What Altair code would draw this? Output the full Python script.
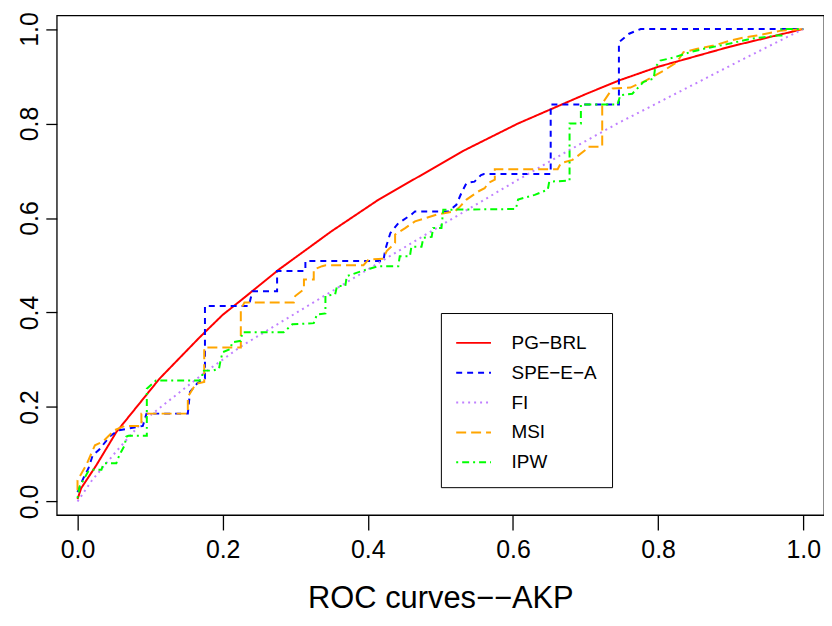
import altair as alt
import pandas as pd

SERIES = ["PG−BRL", "SPE−E−A", "FI", "MSI", "IPW"]
COLORS = ["#FF0000", "#0000FF", "#C080FF", "#FFA500", "#00FF00"]
DASHES = [[1, 0], [6, 5], [2, 4], [10, 5], [2, 4, 7, 4]]

PG_X = [0, 0.005, 0.026, 0.0535, 0.113, 0.168, 0.2, 0.227, 0.2775, 0.35, 0.415, 0.534, 0.607, 0.7, 0.746, 0.8, 0.9, 1.0]
PG_Y = [0.005, 0.028, 0.077, 0.147, 0.26, 0.347, 0.395, 0.428, 0.491, 0.572, 0.639, 0.744, 0.80, 0.862, 0.891, 0.92, 0.963, 1.0]

SPE_X = [0, 0.008, 0.015, 0.021, 0.03, 0.044, 0.055, 0.09, 0.095, 0.152, 0.155, 0.165, 0.1756, 0.1756, 0.236, 0.241,
         0.275, 0.275, 0.314, 0.314, 0.4215, 0.424, 0.431, 0.442, 0.46, 0.465, 0.511, 0.522, 0.529, 0.536, 0.547,
         0.556, 0.56, 0.652, 0.652, 0.746, 0.746, 0.76, 0.776, 1.0]
SPE_Y = [0.02, 0.049, 0.07, 0.098, 0.11, 0.137, 0.15, 0.16, 0.186, 0.186, 0.232, 0.25, 0.26, 0.414, 0.414, 0.445,
         0.445, 0.488, 0.488, 0.509, 0.509, 0.533, 0.568, 0.589, 0.607, 0.614, 0.614, 0.628, 0.653, 0.674, 0.677,
         0.691, 0.693, 0.693, 0.84, 0.84, 0.972, 0.99, 1.0, 1.0]

FI_X = [0, 0.02, 0.05, 0.09, 0.177, 0.227, 0.415, 0.507, 0.607, 0.678, 0.744, 0.913, 1.0]
FI_Y = [0, 0.045, 0.1, 0.17, 0.275, 0.33, 0.505, 0.59, 0.681, 0.744, 0.80, 0.933, 1.0]

MSI_X = [0, 0, 0.012, 0.024, 0.035, 0.051, 0.065, 0.088, 0.088, 0.152, 0.152, 0.163, 0.1746, 0.1746, 0.225, 0.225,
         0.23, 0.298, 0.3, 0.312, 0.312, 0.3255, 0.3255, 0.337, 0.342, 0.394, 0.401, 0.4215, 0.426, 0.4376, 0.4376,
         0.451, 0.465, 0.48, 0.497, 0.52, 0.527, 0.536, 0.552, 0.561, 0.566, 0.575, 0.575, 0.6616, 0.666, 0.682,
         0.70, 0.703, 0.723, 0.723, 0.737, 0.762, 0.769, 0.78, 0.796, 0.808, 0.826, 0.835, 0.854, 0.8765, 0.899,
         0.918, 0.936, 0.968, 1.0]
MSI_Y = [0.024, 0.045, 0.077, 0.119, 0.127, 0.151, 0.16, 0.16, 0.186, 0.186, 0.221, 0.249, 0.253, 0.326, 0.326, 0.407,
         0.421, 0.421, 0.435, 0.449, 0.47, 0.47, 0.491, 0.498, 0.5, 0.5, 0.512, 0.514, 0.53, 0.547, 0.565,
         0.578, 0.593, 0.6, 0.608, 0.614, 0.624, 0.639, 0.656, 0.663, 0.674, 0.681, 0.703, 0.703, 0.716, 0.723,
         0.744, 0.751, 0.751, 0.842, 0.874, 0.876, 0.881, 0.888, 0.902, 0.912, 0.93, 0.951, 0.958, 0.965, 0.975,
         0.982, 0.986, 0.996, 1.0]

IPW_X = [0, 0.003, 0.0145, 0.019, 0.033, 0.035, 0.037, 0.0535, 0.0557, 0.06, 0.065, 0.067, 0.07, 0.0955, 0.0955,
         0.108, 0.168, 0.172, 0.172, 0.186, 0.195, 0.197, 0.2, 0.211, 0.213, 0.225, 0.227, 0.284, 0.296, 0.3255,
         0.33, 0.3416, 0.3416, 0.355, 0.3576, 0.369, 0.371, 0.392, 0.4147, 0.442, 0.444, 0.458, 0.46, 0.474, 0.4765,
         0.488, 0.49, 0.5015, 0.504, 0.604, 0.607, 0.63, 0.648, 0.65, 0.678, 0.678, 0.6936, 0.6936, 0.744, 0.748,
         0.7645, 0.78, 0.794, 0.796, 0.803, 0.822, 0.844, 0.863, 0.895, 0.927, 0.963, 0.97, 0.97, 1.0]
IPW_Y = [0.007, 0.032, 0.063, 0.067, 0.067, 0.077, 0.081, 0.081, 0.091, 0.105, 0.119, 0.137, 0.139, 0.139, 0.2386,
         0.256, 0.256, 0.263, 0.277, 0.277, 0.281, 0.298, 0.316, 0.323, 0.337, 0.34, 0.358, 0.358, 0.375, 0.3775,
         0.396, 0.398, 0.435, 0.4385, 0.456, 0.456, 0.477, 0.488, 0.498, 0.498, 0.519, 0.519, 0.539, 0.539, 0.558,
         0.56, 0.579, 0.579, 0.6175, 0.619, 0.639, 0.649, 0.66, 0.677, 0.679, 0.80, 0.80, 0.84, 0.84, 0.86,
         0.863, 0.888, 0.895, 0.919, 0.933, 0.94, 0.951, 0.958, 0.968, 0.979, 0.986, 0.986, 1.0, 1.0]

TICKS = [0.0, 0.2, 0.4, 0.6, 0.8, 1.0]

rows = []
for name, xs, ys in zip(SERIES, [PG_X, SPE_X, FI_X, MSI_X, IPW_X], [PG_Y, SPE_Y, FI_Y, MSI_Y, IPW_Y]):
    for i, (a, b) in enumerate(zip(xs, ys)):
        rows.append({"method": name, "fpr": a, "tpr": b, "idx": i})
df = pd.DataFrame(rows)

FONT = "Liberation Sans"
dom = [-0.0286, 1.0286]

legend = alt.Legend(
    title=None, orient="none", legendX=386, legendY=299,
    strokeColor="black", fillColor="white", padding=15,
    symbolType="M-1.07,0H1.49", symbolSize=745, symbolStrokeWidth=2,
    labelFont=FONT, labelFontSize=19, labelColor="black", labelOffset=26,
    rowPadding=5,
)

chart = alt.Chart(df).mark_line(strokeWidth=2).encode(
    x=alt.X("fpr:Q", scale=alt.Scale(domain=dom, nice=False, zero=False),
            axis=alt.Axis(values=TICKS, format=".1f", title="ROC curves−−AKP",
                          labelFontSize=25, tickSize=15, labelPadding=8,
                          titleFontSize=31, titlePadding=21)),
    y=alt.Y("tpr:Q", scale=alt.Scale(domain=dom, nice=False, zero=False),
            axis=alt.Axis(values=TICKS, format=".1f", title=None, labelAngle=270,
                          labelAlign="center", labelBaseline="alphabetic",
                          labelFontSize=25, tickSize=11, labelPadding=8)),
    color=alt.Color("method:N", scale=alt.Scale(domain=SERIES, range=COLORS), legend=legend),
    strokeDash=alt.StrokeDash("method:N", scale=alt.Scale(domain=SERIES, range=DASHES), legend=legend),
    order=alt.Order("idx:Q"),
).properties(
    width=771, height=502,
    autosize=alt.AutoSizeParams(type="none"),
    padding={"left": 49, "top": 6, "right": 0, "bottom": 110},
).configure_view(
    stroke="black", strokeWidth=1.3
).configure_axis(
    labelFont=FONT, titleFont=FONT, labelColor="black", titleColor="black",
    titleFontWeight="normal", tickColor="black", tickWidth=1.3,
    domain=False, grid=False, labelFlush=False,
)

chart.save("out.html", embed_options={"renderer": "svg", "actions": False})
